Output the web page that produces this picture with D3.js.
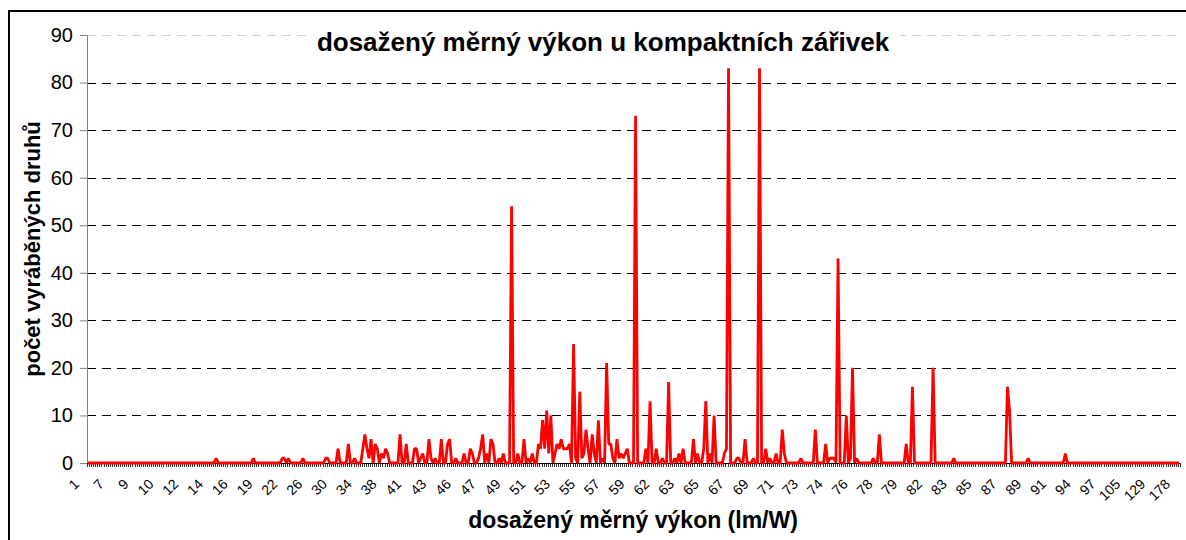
<!DOCTYPE html>
<html>
<head>
<meta charset="utf-8">
<script src="https://cdn.jsdelivr.net/npm/d3@7"></script>
<style>
body { margin: 0; background: #fff; }
svg { display: block; font-family: "Liberation Sans", Arial, sans-serif; }
</style>
</head>
<body>
<svg id="chart" width="1186" height="540"></svg>
<script>
// category labels shown on the axis (every 12th category)
var xLabels = ['1','7','9','10','12','14','16','19','22','26','30','34','38','41','43','46','47','49',
	'51','53','55','57','59','62','63','65','67','69','71','73','74','76','78','79','82','83','85',
	'87','89','91','94','97','105','129','178'];
var categoryCount = 529;
var labelStep = 12;

// categories with a non-zero count (index into the category list) and their counts
var peakIndex = [62,80,94,95,97,104,115,116,121,126,129,
	133,134,135,136,137,139,140,142,143,144,145,151,154,158,159,161,162,165,166,168,
	171,174,175,178,182,185,186,189,190,191,193,195,196,199,201,205,208,211,213,215,
	218,219,220,221,222,223,224,226,227,228,229,230,231,232,233,235,236,238,239,240,241,242,
	244,245,247,249,251,252,253,254,256,257,258,259,260,261,265,270,272,275,278,281,284,286,288,
	293,295,298,299,301,303,308,309,310,314,315,318,322,325,328,330,333,336,337,345,352,357,
	359,360,361,363,367,369,370,372,380,383,396,399,409,419,445,446,455,473];
var peakCount = [1,1,1,1,1,1,1,1,3,4,1,
	3,6,3,1,5,4,3,2,1,3,2,6,4,3,3,1,2,5,1,1,
	5,4,5,1,2,3,2,1,3,6,2,5,4,1,2,54,2,5,1,2,
	4,3,9,3,11,2,10,2,4,3,5,3,3,3,4,25,1,15,1,2,7,3,
	6,2,9,1,21,4,4,1,5,1,2,1,2,3,73,3,13,3,1,17,1,2,3,
	5,2,3,13,2,10,2,3,83,1,1,5,1,83,3,1,2,7,2,1,7,4,
	1,1,1,43,10,1,20,1,1,6,4,16,20,1,16,11,1,2];

var yTicks = [0,10,20,30,40,50,60,70,80,90];

var svg = null;
var x = null;
var y = null;

var plotLeft = 87, plotRight = 1180, plotTop = 35, plotBottom = 463;

main();

function main(){
	svg = d3.select('#chart');

	var counts = d3.range(categoryCount).map(function(){ return 0; });
	peakIndex.forEach(function(idx, i){ counts[idx] = peakCount[i]; });

	x = d3.scaleBand().domain(d3.range(categoryCount)).range([plotLeft, plotRight]);
	y = d3.scaleLinear().domain([0, 90]).range([plotBottom, plotTop]);

	drawGrid();
	drawAxes();
	drawLine( counts );
	drawTitles();

	svg.append('rect')
		.attr('x', 9).attr('y', 11)
		.attr('width', 1300).attr('height', 700)
		.attr('fill', 'none')
		.attr('stroke', '#000')
		.attr('stroke-width', 2);
}

function cx( i ){
	return x(i) + x.bandwidth() / 2;
}

function drawGrid(){
	svg.append('g')
		.selectAll('line')
		.data(yTicks.filter(function(d){ return d > 0; }))
		.enter().append('line')
		.attr('x1', plotLeft).attr('x2', plotRight)
		.attr('y1', function(d){ return Math.round(y(d)) + 0.5; })
		.attr('y2', function(d){ return Math.round(y(d)) + 0.5; })
		.attr('stroke', function(d){ return d === 90 ? '#d4d4d4' : '#000'; })
		.attr('stroke-width', 1)
		.attr('stroke-dasharray', '9,6');
}

function drawAxes(){
	var yAxis = svg.append('g')
		.attr('transform', 'translate(' + plotLeft + ',0)')
		.call(d3.axisLeft(y).tickValues(yTicks).tickSize(7).tickSizeOuter(0).tickPadding(7));
	yAxis.select('.domain').attr('stroke', '#808080');
	yAxis.selectAll('.tick line').attr('stroke', '#808080');
	yAxis.selectAll('.tick text')
		.attr('font-size', 20)
		.attr('font-family', '"Liberation Sans", Arial, sans-serif')
		.attr('fill', '#000');

	// category tick marks sit on the boundaries between categories
	var bounds = d3.range(categoryCount).map(function(i){ return x(i); }).concat([plotRight]);
	svg.append('g')
		.selectAll('line')
		.data(bounds)
		.enter().append('line')
		.attr('x1', function(d){ return Math.round(d) + 0.5; })
		.attr('x2', function(d){ return Math.round(d) + 0.5; })
		.attr('y1', plotBottom).attr('y2', plotBottom + 4)
		.attr('stroke', '#333')
		.attr('stroke-width', 1);

	svg.append('line')
		.attr('x1', plotLeft).attr('x2', plotRight)
		.attr('y1', plotBottom + 0.5).attr('y2', plotBottom + 0.5)
		.attr('stroke', '#000');

	var labelIdx = xLabels.map(function(d, i){ return i * labelStep; });
	svg.append('g')
		.selectAll('text')
		.data(labelIdx)
		.enter().append('text')
		.attr('transform', function(d){ return 'translate(' + (cx(d) - 8) + ',485) rotate(-45)'; })
		.attr('text-anchor', 'end')
		.attr('font-size', 14)
		.text(function(d, i){ return xLabels[i]; });
}

function drawLine( counts ){
	var line = d3.line()
		.x(function(d, i){ return cx(i); })
		.y(function(d){ return y(d); });

	svg.append('path')
		.datum(counts)
		.attr('d', line)
		.attr('fill', 'none')
		.attr('stroke', '#ff0000')
		.attr('stroke-width', 2.8)
		.attr('stroke-linejoin', 'bevel');
}

function drawTitles(){
	svg.append('rect')
		.attr('x', 306).attr('y', 26)
		.attr('width', 594).attr('height', 32)
		.attr('fill', '#fff');

	svg.append('text')
		.attr('x', 603).attr('y', 51)
		.attr('text-anchor', 'middle')
		.attr('font-size', 26)
		.attr('font-weight', 'bold')
		.text('dosažený měrný výkon u kompaktních zářivek');

	svg.append('text')
		.attr('x', 633).attr('y', 528)
		.attr('text-anchor', 'middle')
		.attr('font-size', 23)
		.attr('font-weight', 'bold')
		.text('dosažený měrný výkon (lm/W)');

	svg.append('text')
		.attr('transform', 'translate(40,249) rotate(-90)')
		.attr('text-anchor', 'middle')
		.attr('font-size', 22)
		.attr('font-weight', 'bold')
		.text('počet vyráběných druhů');
}
</script>
</body>
</html>
